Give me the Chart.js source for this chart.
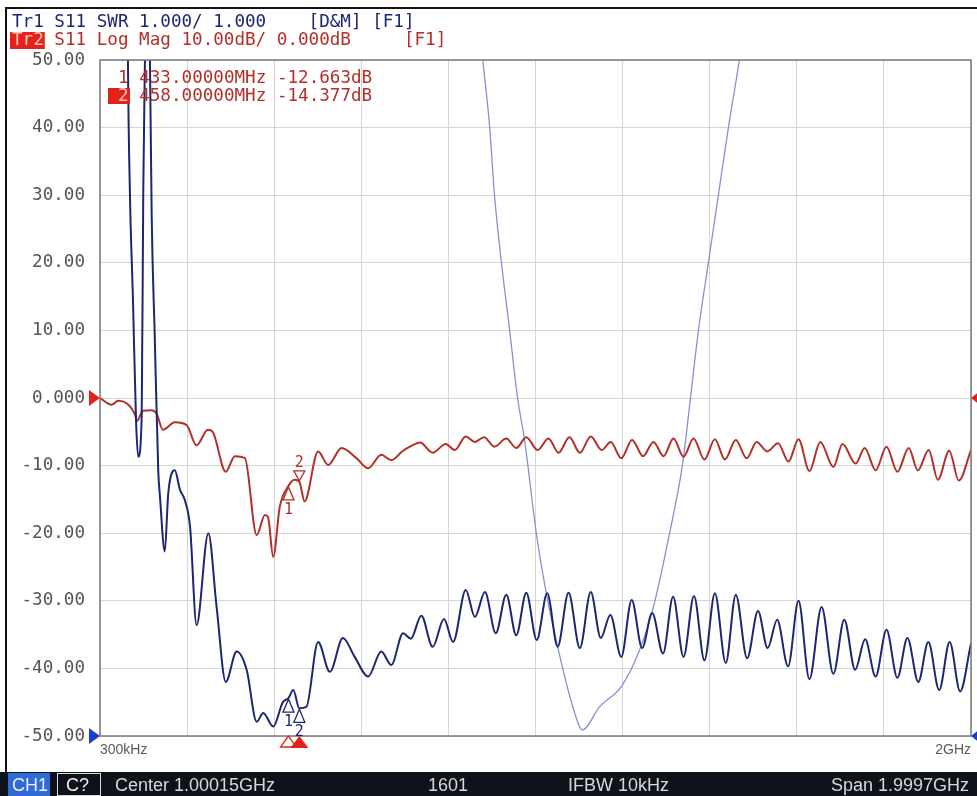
<!DOCTYPE html>
<html>
<head>
<meta charset="utf-8">
<script src="https://cdn.jsdelivr.net/npm/chart.js@4.4.1/dist/chart.umd.min.js"></script>
<style>
  html, body { margin: 0; padding: 0; background: #fff; }
  canvas { display: block; }
</style>
</head>
<body>
<canvas id="vna" width="977" height="796"></canvas>
<script>
// sweep 300 kHz .. 2 GHz, values in MHz
const startMHz = 0.3;
const stopMHz = 2000;

// Tr2 : S11 Log Mag (dB)
const tr2Freq = [0.3, 27, 42, 81, 85, 99, 119, 130, 145, 172, 199, 222, 248, 259, 289, 310, 333, 360, 379, 386, 398, 413,
  433, 447, 458, 470, 501, 524, 555, 589, 616, 646, 669, 696, 712, 735, 764, 794, 815, 840, 861, 882, 906, 933, 956, 979,
  1005, 1030, 1053, 1078, 1102, 1127, 1152, 1173, 1197, 1222, 1247, 1271, 1294, 1317, 1340, 1363, 1388, 1412, 1435, 1460,
  1485, 1508, 1532, 1557, 1581, 1604, 1629, 1654, 1684, 1705, 1735, 1756, 1781, 1806, 1831, 1857, 1878, 1903, 1924, 1950,
  1972, 2000];
const tr2Db = [0.0, -1.0, -0.4, -2.5, -3.4, -1.9, -1.8, -2.3, -4.7, -3.6, -4.0, -7.0, -4.7, -5.0, -10.9, -8.6, -8.9, -20.3, -17.3, -17.6, -23.5, -16.1,
  -13.0, -12.1, -12.4, -15.3, -7.9, -9.9, -7.4, -8.9, -10.4, -8.4, -9.2, -7.8, -7.2, -6.6, -8.1, -6.8, -7.7, -5.7, -6.5, -5.8, -7.2, -6.0, -7.4, -5.8,
  -7.7, -6.0, -8.1, -5.8, -8.1, -5.7, -7.7, -6.5, -8.9, -6.2, -8.6, -6.5, -8.6, -6.0, -8.7, -6.0, -9.1, -6.1, -9.1, -6.2,
  -8.9, -6.5, -7.9, -6.7, -9.4, -6.1, -10.8, -6.5, -10.2, -6.8, -9.7, -7.4, -10.7, -7.2, -10.9, -7.4, -10.7, -7.7, -12.1, -7.8,
  -12.2, -7.7];

// Tr1 : S11 SWR
const tr1Freq = [0.3, 62, 64.5, 69, 76, 83, 88, 96, 99.6, 103.5, 107, 113, 115, 119, 126, 134, 138, 149, 157, 172, 184, 195, 207,
  222, 249, 268, 289, 314, 337, 360, 375, 398, 420, 433, 444, 458, 474, 501, 528, 558, 585, 616, 646, 669, 696, 714, 738,
  764, 790, 811, 840, 861, 884, 909, 933, 956, 979, 1003, 1027, 1051, 1076, 1102, 1127, 1150, 1172, 1197, 1221, 1245, 1268,
  1293, 1316, 1340, 1364, 1388, 1412, 1437, 1460, 1486, 1511, 1533, 1555, 1580, 1604, 1629, 1657, 1684, 1709, 1734, 1757,
  1781, 1806, 1831, 1854, 1879, 1902, 1927, 1951, 1975, 2000];
const tr1Swr = [14, 14, 11.0, 9.03, 7.45, 5.67, 5.13, 5.72, 9.03, 11.0, 13, 13, 10.96, 8.68, 6.91, 4.93, 4.54, 3.73, 4.59, 4.93, 4.64, 4.49, 4.10,
  2.64, 4.0, 2.91, 1.80, 2.25, 1.98, 1.21, 1.34, 1.14, 1.50, 1.56, 1.68, 1.41, 1.43, 2.39, 1.95, 2.45, 2.17, 1.88, 2.25, 2.05, 2.52, 2.44, 2.78,
  2.32, 2.73, 2.39, 3.16, 2.76, 3.13, 2.52, 3.09, 2.49, 3.12, 2.42, 3.11, 2.32, 3.12, 2.30, 3.13, 2.45, 2.79, 2.17, 3.01, 2.30, 2.82,
  2.22, 3.06, 2.17, 3.07, 2.12, 3.11, 2.08, 3.09, 2.15, 2.85, 2.30, 2.72, 2.03, 3.00, 1.84, 2.91, 1.92, 2.72, 1.98, 2.43,
  1.88, 2.57, 1.86, 2.45, 1.80, 2.39, 1.68, 2.39, 1.66, 2.37];

// Tr1 memory trace (light)
const memFreq = [868, 879, 895, 906, 922, 941, 959, 975, 1002, 1025, 1051, 1086, 1108, 1147, 1197, 1239, 1269, 1308, 1338, 1356, 1374, 1397, 1420, 1443, 1468, 1480];
const memSwr = [11.6, 11.0, 10.0, 9.0, 8.0, 6.99, 6.0, 5.38, 4.0, 3.11, 2.32, 1.43, 1.09, 1.43, 1.73, 2.27, 2.86, 4.0, 5.03, 6.0, 6.99, 8.0, 9.0, 10.0, 11.0, 11.6];

// markers (readout values)
const markerNo = [1, 2];
const markerMHz = [433, 458];
const markerDb = [-12.663, -14.377];
const activeMarker = 2;

const MONO = '"DejaVu Sans Mono", monospace';
const RED = '#b3302a';
const NAVY = '#1c2772';

function pts(xs, ys) {
  return xs.map((x, i) => ({ x: x, y: ys[i] }));
}

function tri(ctx, x, y, w, h, dir, fill, stroke) {
  ctx.beginPath();
  if (dir === 'up') { ctx.moveTo(x, y); ctx.lineTo(x - w / 2, y + h); ctx.lineTo(x + w / 2, y + h); }
  if (dir === 'down') { ctx.moveTo(x, y); ctx.lineTo(x - w / 2, y - h); ctx.lineTo(x + w / 2, y - h); }
  if (dir === 'right') { ctx.moveTo(x, y); ctx.lineTo(x - h, y - w / 2); ctx.lineTo(x - h, y + w / 2); }
  if (dir === 'left') { ctx.moveTo(x, y); ctx.lineTo(x + h, y - w / 2); ctx.lineTo(x + h, y + w / 2); }
  ctx.closePath();
  if (fill) { ctx.fillStyle = fill; ctx.fill(); }
  if (stroke) { ctx.strokeStyle = stroke; ctx.lineWidth = 1.3; ctx.stroke(); }
}

const vnaOverlay = {
  id: 'vnaOverlay',
  beforeDraw(chart) {
    const ctx = chart.ctx;
    ctx.save();
    ctx.fillStyle = '#fff';
    ctx.fillRect(0, 0, chart.width, chart.height);
    ctx.restore();
  },
  afterDraw(chart) {
    const { ctx, chartArea: a, scales } = chart;
    const xs = scales.x, yd = scales.y, ys = scales.ySwr;
    ctx.save();

    // plot frame
    ctx.strokeStyle = '#7a7a7a';
    ctx.lineWidth = 1.5;
    ctx.strokeRect(a.left, a.top, a.right - a.left, a.bottom - a.top);

    // outer screen frame
    ctx.strokeStyle = '#111';
    ctx.lineWidth = 2;
    ctx.beginPath();
    ctx.moveTo(6, 772); ctx.lineTo(6, 8); ctx.lineTo(chart.width, 8);
    ctx.stroke();

    // header
    ctx.font = '17.6px ' + MONO;
    ctx.textBaseline = 'middle';
    ctx.textAlign = 'left';
    const cw = ctx.measureText('M').width;
    ctx.fillStyle = NAVY;
    ctx.fillText('Tr1 S11 SWR 1.000/ 1.000    [D&M] [F1]', 12, 22);
    ctx.fillStyle = '#e3231b';
    ctx.fillRect(10, 32, cw * 3 + 3, 17);
    ctx.fillStyle = '#ffc4b8';
    ctx.fillText('Tr2', 12, 40);
    ctx.fillStyle = RED;
    ctx.fillText(' S11 Log Mag 10.00dB/ 0.000dB     [F1]', 12 + cw * 3, 40);

    // marker readout
    markerNo.forEach((n, i) => {
      const ty = 78 + i * 18;
      const txt = ' ' + markerMHz[i].toFixed(5) + 'MHz ' + markerDb[i].toFixed(3) + 'dB';
      if (n === activeMarker) {
        ctx.fillStyle = '#e3231b';
        ctx.fillRect(108, ty - 8, 22, 16);
        ctx.fillStyle = '#ffc4b8';
      } else {
        ctx.fillStyle = RED;
      }
      ctx.fillText(String(n), 118, ty);
      ctx.fillStyle = RED;
      ctx.fillText(txt, 118 + cw, ty);
    });

    // reference position arrows
    tri(ctx, a.left, yd.getPixelForValue(0), 16, 11, 'right', '#e3231b');
    tri(ctx, a.left, ys.getPixelForValue(1), 16, 11, 'right', '#1740d0');
    tri(ctx, a.right, yd.getPixelForValue(0), 14, 9, 'left', '#e3231b');
    tri(ctx, a.right, ys.getPixelForValue(1), 14, 9, 'left', '#1740d0');

    // markers sit on the traces
    ctx.font = '15px ' + MONO;
    ctx.textAlign = 'center';
    markerNo.forEach((n, i) => {
      const px = xs.getPixelForValue(markerMHz[i]);
      const pr = yd.getPixelForValue(tr2Db[tr2Freq.indexOf(markerMHz[i])]);
      const pb = ys.getPixelForValue(tr1Swr[tr1Freq.indexOf(markerMHz[i])]);
      if (i === 0) {
        tri(ctx, px, pr + 1, 11, 13, 'up', 'rgba(255,255,255,0.6)', RED);
        ctx.fillStyle = RED;
        ctx.fillText(String(n), px, pr + 24);
      } else {
        tri(ctx, px, pr - 1, 11, 10, 'down', 'rgba(255,255,255,0.6)', RED);
        ctx.fillStyle = RED;
        ctx.fillText(String(n), px, pr - 19);
      }
      tri(ctx, px, pb + 1, 11, 13, 'up', 'rgba(255,255,255,0.6)', NAVY);
      ctx.fillStyle = NAVY;
      ctx.fillText(String(n), px, pb + 24);

      // marker position on the frequency axis
      if (n === activeMarker) tri(ctx, px, a.bottom, 18, 12, 'up', '#e3231b');
      else tri(ctx, px, a.bottom, 16, 11, 'up', '#fff', '#e3231b');
    });

    // status bar
    ctx.fillStyle = '#0e121b';
    ctx.fillRect(0, 772, chart.width, chart.height - 772);
    ctx.fillStyle = '#2f6bd6';
    ctx.fillRect(8, 773, 42, 23);
    ctx.strokeStyle = '#d8d8d8';
    ctx.lineWidth = 1;
    ctx.strokeRect(57.5, 773.5, 43, 22);
    ctx.font = '18px "Liberation Sans", sans-serif';
    ctx.textAlign = 'left';
    ctx.fillStyle = '#f0f0f0';
    ctx.fillText('CH1', 12, 786);
    ctx.fillText('C?', 66, 786);
    ctx.fillStyle = '#d8d8d8';
    ctx.fillText('Center 1.00015GHz', 115, 786);
    ctx.fillText('1601', 428, 786);
    ctx.fillText('IFBW 10kHz', 568, 786);
    ctx.fillText('Span 1.9997GHz', 831, 786);

    ctx.restore();
  }
};

const ctx = document.getElementById('vna').getContext('2d');
new Chart(ctx, {
  type: 'line',
  data: {
    datasets: [
      {
        label: 'Tr1 Mem',
        data: pts(memFreq, memSwr),
        yAxisID: 'ySwr',
        borderColor: '#8790d4',
        borderWidth: 1.3,
        pointRadius: 0,
        cubicInterpolationMode: 'monotone',
        order: 3
      },
      {
        label: 'Tr2 S11 Log Mag',
        data: pts(tr2Freq, tr2Db),
        yAxisID: 'y',
        borderColor: RED,
        borderWidth: 2,
        pointRadius: 0,
        cubicInterpolationMode: 'monotone',
        order: 2
      },
      {
        label: 'Tr1 S11 SWR',
        data: pts(tr1Freq, tr1Swr),
        yAxisID: 'ySwr',
        borderColor: NAVY,
        borderWidth: 2,
        pointRadius: 0,
        cubicInterpolationMode: 'monotone',
        order: 1
      }
    ]
  },
  options: {
    responsive: false,
    animation: false,
    layout: { padding: { top: 60, right: 5, left: 0, bottom: 0 } },
    plugins: { legend: { display: false }, tooltip: { enabled: false } },
    scales: {
      x: {
        type: 'linear',
        min: startMHz,
        max: stopMHz,
        afterBuildTicks: (scale) => {
          const t = [];
          for (let i = 0; i <= 10; i++) t.push({ value: startMHz + i * (stopMHz - startMHz) / 10 });
          scale.ticks = t;
        },
        afterFit: (scale) => { scale.height = 60; },
        grid: { color: '#d6d6d6', lineWidth: 1, drawTicks: false },
        border: { display: false },
        ticks: {
          align: 'inner',
          padding: 6,
          maxRotation: 0,
          autoSkip: false,
          color: '#5a5a5a',
          font: { family: '"Liberation Sans", sans-serif', size: 14 },
          callback: (v, i, arr) => i === 0 ? '300kHz' : (i === arr.length - 1 ? '2GHz' : '')
        }
      },
      y: {
        position: 'left',
        min: -50,
        max: 50,
        afterFit: (scale) => { scale.width = 100; },
        grid: { color: '#d6d6d6', lineWidth: 1, drawTicks: false },
        border: { display: false },
        ticks: {
          stepSize: 10,
          padding: 15,
          color: '#555',
          font: { family: MONO, size: 17.6 },
          callback: (v) => v === 0 ? '0.000' : v.toFixed(2)
        }
      },
      ySwr: {
        display: false,
        min: 1,
        max: 11
      }
    }
  },
  plugins: [vnaOverlay]
});
</script>
</body>
</html>
